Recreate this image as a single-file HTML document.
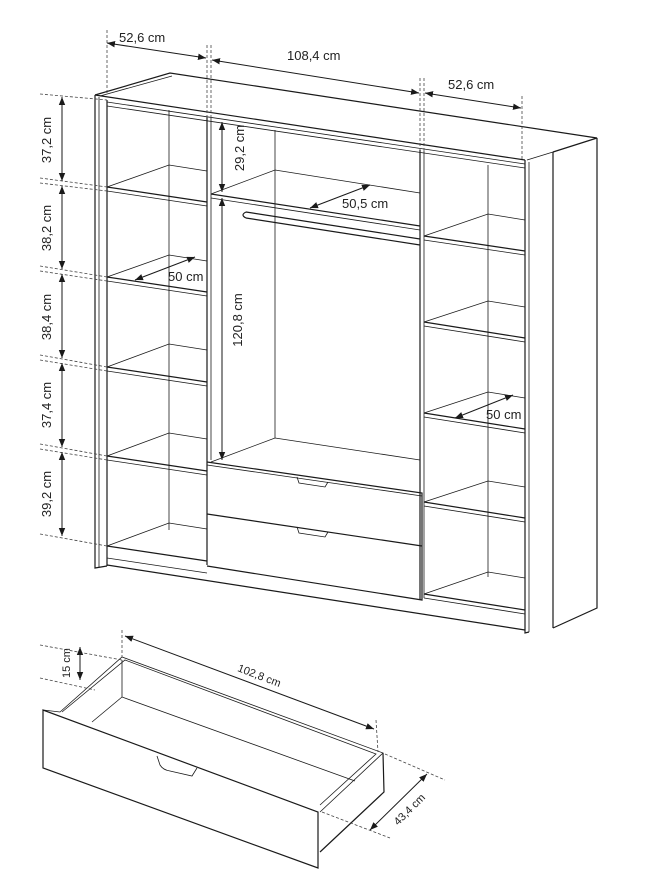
<!DOCTYPE html>
<html><head><meta charset="utf-8"><style>
html,body{margin:0;padding:0;background:#fff}
svg{display:block}
text{font-family:"Liberation Sans",sans-serif;font-size:13px;fill:#222}
.l{stroke:#1a1a1a;stroke-width:1.2;fill:none}
.t{stroke:#1a1a1a;stroke-width:0.8;fill:none}
.d{stroke:#444;stroke-width:0.8;stroke-dasharray:3 2;fill:none}
.a{stroke:#1a1a1a;stroke-width:1;fill:none}
</style></head><body>
<svg width="658" height="893" viewBox="0 0 658 893" xmlns="http://www.w3.org/2000/svg">
<defs>
<marker id="ar" viewBox="0 0 10 10" refX="10" refY="5" markerWidth="8" markerHeight="8" orient="auto-start-reverse"><path d="M0,1 L10,5 L0,9 z" fill="#1a1a1a"/></marker>
</defs>

<!-- Top of wardrobe -->
<path class="l" d="M95,95 L170,73 L597,138 L553,152"/>
<path class="t" d="M100,96 L172,76"/>
<path class="l" d="M95,95 L525,160"/>
<path class="t" d="M107,102 L525,164"/>
<path class="t" d="M107,106 L525,168"/>
<!-- left panel -->
<path class="l" d="M95,95 L95,568 L107,566"/>
<path class="t" d="M99,97 L99,567"/>
<path class="l" d="M107,100 L107,566"/>
<!-- right panel -->
<path class="l" d="M525,160 L525,633 L529,632"/>
<path class="t" d="M529,162 L529,632"/>
<path class="l" d="M553,152 L553,628"/>
<path class="l" d="M597,138 L597,608 L553,628"/>
<path class="t" d="M527,160 L553,152"/>
<!-- dividers -->
<path class="l" d="M207,117 L207,565"/>
<path class="t" d="M211,118 L211,460"/>
<path class="l" d="M420,150 L420,600"/>
<path class="t" d="M424,151 L424,598"/>
<!-- base -->
<path class="l" d="M107,565 L525,630"/>
<path class="t" d="M107,558 L207,573"/>

<!-- left compartment back -->
<path class="t" d="M169,110 L169,530"/>
<g class="t">
<path d="M107,187 L169,165 L207,171"/><path class="l" d="M107,187 L207,202"/><path d="M107,191 L207,206"/>
<path d="M107,277 L169,255 L207,261"/><path class="l" d="M107,277 L207,292"/><path d="M107,281 L207,296"/>
<path d="M107,367 L169,344 L207,350"/><path class="l" d="M107,367 L207,382"/><path d="M107,371 L207,386"/>
<path d="M107,456 L169,433 L207,439"/><path class="l" d="M107,456 L207,471"/><path d="M107,460 L207,475"/>
<path d="M107,546 L169,523 L207,529"/><path class="l" d="M107,546 L207,561"/>
</g>

<!-- middle compartment -->
<path class="t" d="M275,130 L275,438"/>
<path class="t" d="M211,194 L275,170 L420,193"/>
<path class="l" d="M211,194 L420,226"/>
<path class="t" d="M211,198 L420,230"/>
<path class="l" d="M246,212 L420,239 M246,218 L420,245 M246,212 Q240,215 246,218"/>
<path class="t" d="M211,462 L275,438 L420,460"/>
<!-- drawers -->
<path class="l" d="M207,462 L422,493 L422,600 L207,566"/>
<path class="t" d="M207,465 L422,496"/>
<path class="l" d="M207,514 L422,546"/>
<path class="t" d="M297,477 L299,483 L325,487 L328,482 M297,527 L299,533 L325,537 L328,532"/>

<!-- right compartment -->
<path class="t" d="M488,165 L488,577"/>
<g class="t">
<path d="M424,236 L488,214 L525,220"/><path class="l" d="M424,236 L525,251"/><path d="M424,240 L525,255"/>
<path d="M424,322 L488,301 L525,307"/><path class="l" d="M424,322 L525,338"/><path d="M424,326 L525,342"/>
<path d="M424,413 L488,392 L525,398"/><path class="l" d="M424,413 L525,429"/><path d="M424,417 L525,433"/>
<path d="M424,502 L488,481 L525,487"/><path class="l" d="M424,502 L525,518"/><path d="M424,506 L525,522"/>
<path d="M424,594 L488,572 L525,578"/><path class="l" d="M424,594 L525,610"/><path d="M424,598 L525,614"/>
</g>

<!-- extension lines -->
<path class="d" d="M107,30 L107,95 M207,45 L207,118 M211,45 L211,118 M420,78 L420,150 M424,78 L424,152 M522,96 L522,160"/>
<path class="d" d="M40,94 L107,100 M40,178 L107,187 M40,183 L107,191 M40,266 L107,277 M40,271 L107,281 M40,355 L107,367 M40,360 L107,371 M40,444 L107,456 M40,449 L107,460 M40,534 L107,546"/>

<!-- top dims -->
<line class="a" x1="107" y1="43" x2="206" y2="58" marker-start="url(#ar)" marker-end="url(#ar)"/>
<text x="119" y="42">52,6 cm</text>
<line class="a" x1="212" y1="60" x2="419" y2="93" marker-start="url(#ar)" marker-end="url(#ar)"/>
<text x="287" y="60">108,4 cm</text>
<line class="a" x1="425" y1="93" x2="521" y2="108" marker-start="url(#ar)" marker-end="url(#ar)"/>
<text x="448" y="89">52,6 cm</text>

<!-- left vertical dims -->
<g class="a">
<line x1="62" y1="97" x2="62" y2="181" marker-start="url(#ar)" marker-end="url(#ar)"/>
<line x1="62" y1="186" x2="62" y2="269" marker-start="url(#ar)" marker-end="url(#ar)"/>
<line x1="62" y1="274" x2="62" y2="358" marker-start="url(#ar)" marker-end="url(#ar)"/>
<line x1="62" y1="363" x2="62" y2="447" marker-start="url(#ar)" marker-end="url(#ar)"/>
<line x1="62" y1="452" x2="62" y2="536" marker-start="url(#ar)" marker-end="url(#ar)"/>
</g>
<text transform="translate(51,140) rotate(-90)" text-anchor="middle">37,2 cm</text>
<text transform="translate(51,228) rotate(-90)" text-anchor="middle">38,2 cm</text>
<text transform="translate(51,317) rotate(-90)" text-anchor="middle">38,4 cm</text>
<text transform="translate(51,405) rotate(-90)" text-anchor="middle">37,4 cm</text>
<text transform="translate(51,494) rotate(-90)" text-anchor="middle">39,2 cm</text>

<!-- inner dims -->
<line class="a" x1="222" y1="122" x2="222" y2="192" marker-start="url(#ar)" marker-end="url(#ar)"/>
<text transform="translate(244,148) rotate(-90)" text-anchor="middle">29,2 cm</text>
<line class="a" x1="222" y1="198" x2="222" y2="460" marker-start="url(#ar)" marker-end="url(#ar)"/>
<text transform="translate(242,320) rotate(-90)" text-anchor="middle">120,8 cm</text>
<line class="a" x1="310" y1="208" x2="370" y2="185" marker-start="url(#ar)" marker-end="url(#ar)"/>
<text x="342" y="208">50,5 cm</text>
<line class="a" x1="135" y1="280" x2="195" y2="257" marker-start="url(#ar)" marker-end="url(#ar)"/>
<text x="168" y="281">50 cm</text>
<line class="a" x1="455" y1="418" x2="513" y2="395" marker-start="url(#ar)" marker-end="url(#ar)"/>
<text x="486" y="419">50 cm</text>

<!-- drawer -->
<path class="l" d="M43,710 L43,768 L318,868 L318,812 Z"/>
<path class="t" d="M43,710 L60,712 L122,657 L383,753 L320,812"/>
<path class="t" d="M62,712 L125,660 L376,754 L320,805"/>
<path class="t" d="M122,660 L122,697 L355,781"/>
<path class="t" d="M92,722 L122,697"/>
<path class="l" d="M383,753 L384,792 L320,852"/>
<path class="t" d="M157,756 L160,765 Q163,770 170,771 L192,776 L197,768"/>
<!-- drawer dims -->
<path class="d" d="M122,630 L122,657 M376,720 L378,752 M40,645 L122,660 M40,678 L95,690 M385,754 L445,780 M322,812 L390,838"/>
<line class="a" x1="80" y1="647" x2="80" y2="680" marker-start="url(#ar)" marker-end="url(#ar)"/>
<text transform="translate(70,663) rotate(-90)" text-anchor="middle" style="font-size:11px">15 cm</text>
<line class="a" x1="125" y1="636" x2="374" y2="729" marker-start="url(#ar)" marker-end="url(#ar)"/>
<text transform="translate(258,679) rotate(21)" text-anchor="middle" style="font-size:11px">102,8 cm</text>
<line class="a" x1="427" y1="774" x2="370" y2="830" marker-start="url(#ar)" marker-end="url(#ar)"/>
<text transform="translate(412,812) rotate(-45)" text-anchor="middle" style="font-size:11px">43,4 cm</text>
</svg>
</body></html>
